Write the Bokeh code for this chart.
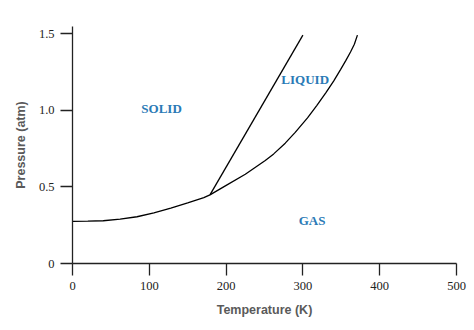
from bokeh.plotting import figure
from bokeh.models import Range1d, FixedTicker
from bokeh.core.properties import value
from bokeh.embed import file_html
from bokeh.resources import INLINE

# Sublimation curve (solid-gas)
sub_T = [0, 20, 40, 62, 84, 106, 128, 150, 171, 179]
sub_P = [0.275, 0.276, 0.279, 0.29, 0.305, 0.33, 0.362, 0.395, 0.43, 0.448]

# Melting curve (solid-liquid)
melt_T = [179, 300]
melt_P = [0.448, 1.49]

# Vaporization curve (liquid-gas)
vap_T = [179, 199, 225, 251, 262, 277, 290, 306, 318, 330, 340, 349, 356, 362, 367, 371]
vap_P = [0.448, 0.506, 0.582, 0.672, 0.715, 0.785, 0.855, 0.95, 1.03, 1.115, 1.19, 1.265, 1.325, 1.38, 1.43, 1.49]

# Region labels
region_names = ["SOLID", "LIQUID", "GAS"]
region_T = [116, 303, 312]
region_P = [1.008, 1.199, 0.279]

x_ticks = [0, 100, 200, 300, 400, 500]
y_ticks = [0, 0.5, 1.0, 1.5]
y_tick_labels = ["0", "0.5", "1.0", "1.5"]

p = figure(width=474, height=330, output_backend="svg", toolbar_location=None,
           x_range=Range1d(0, 500), y_range=Range1d(0, 1.546),
           min_border_left=72, min_border_right=18, min_border_top=26, min_border_bottom=67)

p.outline_line_color = None
p.xgrid.visible = False
p.ygrid.visible = False
p.background_fill_color = "white"
p.border_fill_color = "white"

for ax in (p.xaxis[0], p.yaxis[0]):
    ax.axis_line_color = "#222222"
    ax.axis_line_width = 1.3
    ax.major_tick_line_color = "#222222"
    ax.major_tick_line_width = 1.3
    ax.major_tick_out = 12
    ax.major_tick_in = 0
    ax.minor_tick_line_color = None
    ax.major_label_text_font = "Liberation Serif"
    ax.major_label_text_font_size = "12.5px"
    ax.major_label_text_color = "#222222"
    ax.major_label_standoff = 6
    ax.axis_label_text_font = "Liberation Sans"
    ax.axis_label_text_font_style = "bold"
    ax.axis_label_text_font_size = "12.5px"
    ax.axis_label_text_color = "#5a5a5a"

p.xaxis.ticker = FixedTicker(ticks=x_ticks)
p.yaxis.ticker = FixedTicker(ticks=y_ticks)
p.yaxis.major_label_overrides = {t: l for t, l in zip(y_ticks, y_tick_labels)}
p.xaxis.axis_label = "Temperature (K)"
p.yaxis.axis_label = "Pressure (atm)"
p.xaxis.axis_label_standoff = 10
p.yaxis.axis_label_standoff = 8

for T, P in ((sub_T, sub_P), (melt_T, melt_P), (vap_T, vap_P)):
    p.line(T, P, line_color="black", line_width=1.3)

p.text(x=region_T, y=region_P, text=region_names,
       text_font=value("Liberation Serif"), text_font_style="bold",
       text_font_size="13px", text_color="#2a7ab6",
       text_align="center", text_baseline="middle")

open("out.html", "w").write(file_html(p, INLINE))
